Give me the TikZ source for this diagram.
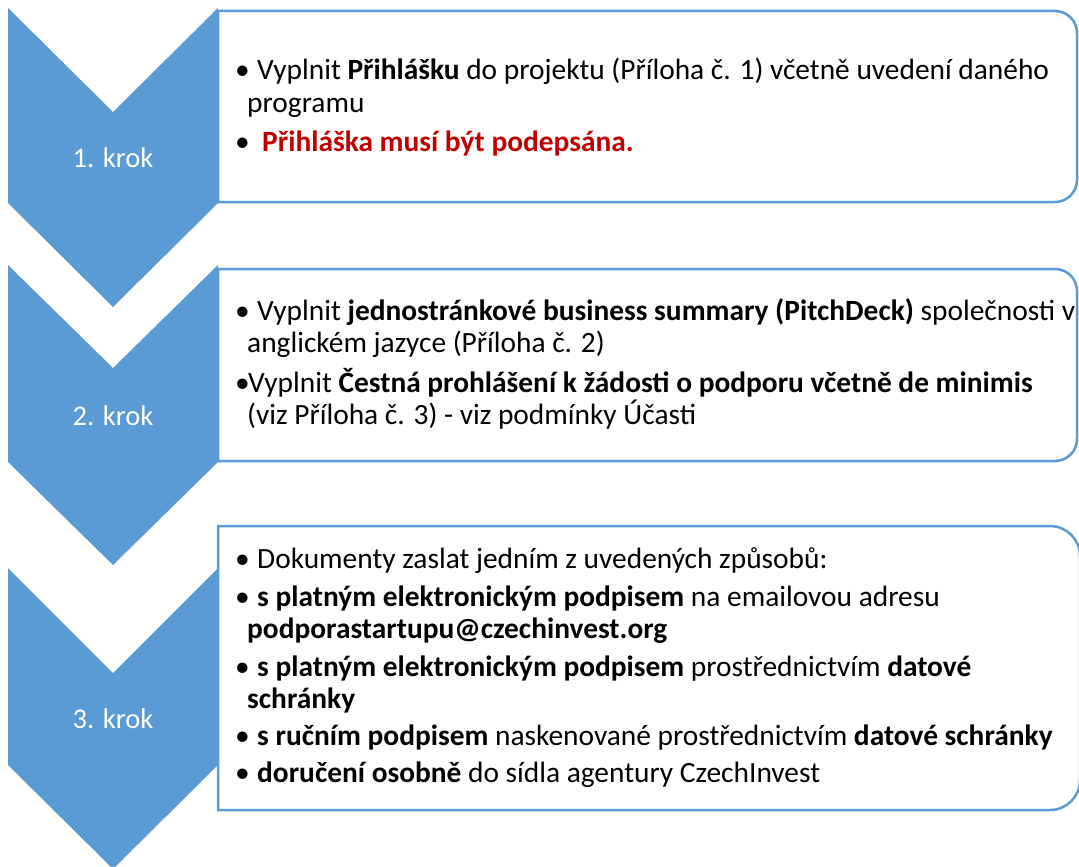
\documentclass[tikz,border=0pt]{standalone}
\usepackage{fontspec}
\setmainfont{Carlito}
\definecolor{chev}{HTML}{5B9BD5}
\definecolor{boxline}{HTML}{5B9BD5}
\definecolor{warn}{HTML}{C00000}
\begin{document}
\begin{tikzpicture}[x=1pt,y=-1pt,
  chevron/.style={fill=chev,draw=none},
  listbox/.style={draw=boxline,line width=2.5pt,fill=white},
  steplabel/.style={text=white,font=\fontsize{28.5}{34}\selectfont,anchor=base,inner sep=0pt},
  ln/.style={anchor=base west,inner sep=0pt,font=\fontsize{29.4}{35}\selectfont},
]
\useasboundingbox (0,0) rectangle (1079,867);

% chevrons
\path[chevron] (8,8) -- (113,112) -- (218,8) -- (218,203) -- (113,307) -- (8,203) -- cycle;
\path[chevron] (8,265) -- (113,368) -- (218,265) -- (218,462) -- (113,565) -- (8,462) -- cycle;
\path[chevron] (8,568) -- (113,673) -- (218,568) -- (218,765) -- (113,869) -- (8,765) -- cycle;

% boxes
\draw[listbox] (218,11) -- (1055,11) arc[start angle=-90,end angle=0,radius=22] -- (1077,180) arc[start angle=0,end angle=90,radius=22] -- (218,202) -- cycle;
\draw[listbox] (218,269) -- (1055,269) arc[start angle=-90,end angle=0,radius=22] -- (1077,439) arc[start angle=0,end angle=90,radius=22] -- (218,461) -- cycle;
\draw[listbox] (218,526) -- (1050,526) arc[start angle=-90,end angle=0,radius=30] -- (1080,780) arc[start angle=0,end angle=90,radius=30] -- (218,810) -- cycle;

% step labels
\node[steplabel] (k1) at (113,167) {1. krok};
\node[steplabel] (k2) at (113,425) {2. krok};
\node[steplabel] (k3) at (113,728) {3. krok};

% box 1
\node[ln] (b1a) at (235,80) {•};
\node[ln] (t1a) at (257,80) {Vyplnit \textbf{Přihlášku} do projektu (Příloha č. 1) včetně uvedení daného};
\node[ln] (t1b) at (247,112) {programu};
\node[ln] (b1c) at (235,151) {•};
\node[ln] (t1c) at (262,151) {\textcolor{warn}{\textbf{Přihláška musí být podepsána.}}};

% box 2
\node[ln] (b2a) at (235,320) {•};
\node[ln] (t2a) at (257,320) {Vyplnit \textbf{jednostránkové business summary (PitchDeck)} společnosti v};
\node[ln] (t2b) at (247,352) {anglickém jazyce (Příloha č. 2)};
\node[ln] (b2c) at (235,392) {•};
\node[ln] (t2c) at (248,392) {Vyplnit \textbf{Čestná prohlášení k žádosti o podporu včetně de minimis}};
\node[ln] (t2d) at (247,424) {(viz Příloha č. 3) - viz podmínky Účasti};

% box 3
\node[ln] (b3a) at (235,568) {•};
\node[ln] (t3a) at (257,568) {Dokumenty zaslat jedním z uvedených způsobů:};
\node[ln] (b3b) at (235,606) {•};
\node[ln] (t3b) at (257,606) {\textbf{s platným elektronickým podpisem} na emailovou adresu};
\node[ln] (t3c) at (247,638) {\textbf{podporastartupu@czechinvest.org}};
\node[ln] (b3d) at (235,676) {•};
\node[ln] (t3d) at (257,676) {\textbf{s platným elektronickým podpisem} prostřednictvím \textbf{datové}};
\node[ln] (t3e) at (247,708) {\textbf{schránky}};
\node[ln] (b3f) at (235,745) {•};
\node[ln] (t3f) at (257,745) {\textbf{s ručním podpisem} naskenované prostřednictvím \textbf{datové schránky}};
\node[ln] (b3g) at (235,782) {•};
\node[ln] (t3g) at (257,782) {\textbf{doručení osobně} do sídla agentury CzechInvest};
\end{tikzpicture}
\end{document}
